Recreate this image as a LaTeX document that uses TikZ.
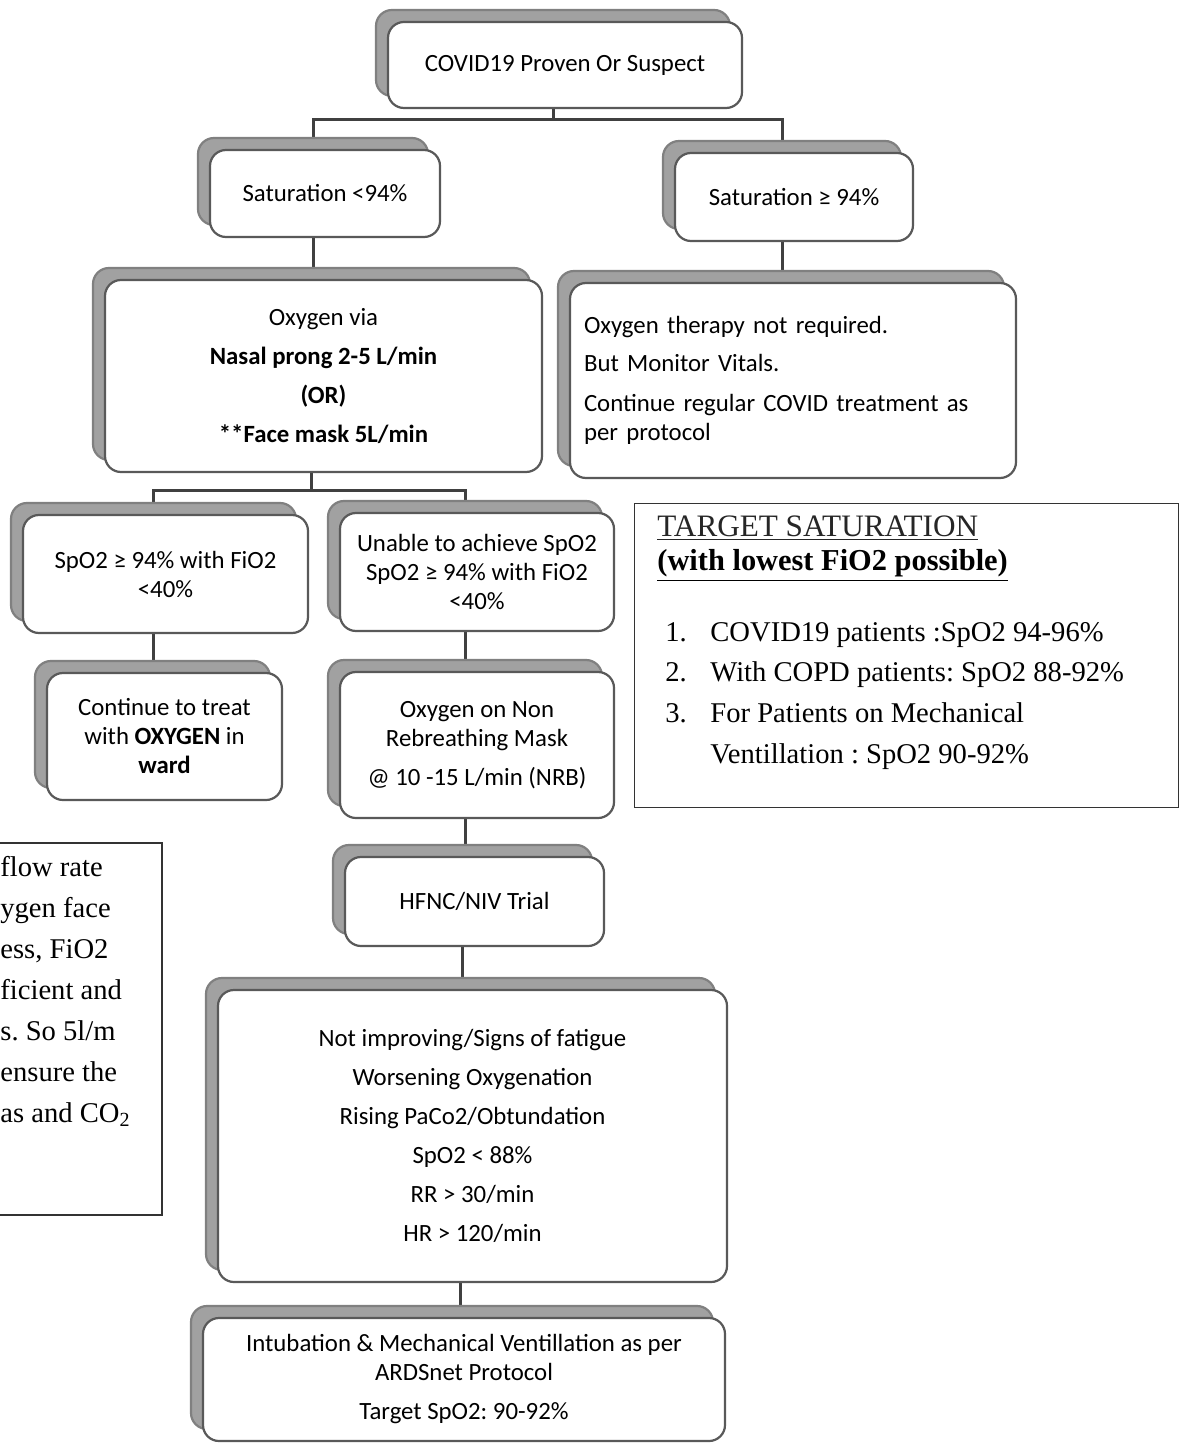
\documentclass[tikz,border=0pt]{standalone}
\usepackage{fontspec}
\setmainfont{Carlito}
\newfontfamily\timesfont{Liberation Serif}
\usetikzlibrary{shadows,backgrounds}
\frenchspacing

\begin{document}
\begin{tikzpicture}[x=0.5pt,y=-0.5pt]
\tikzstyle{every node}+=[inner sep=0pt,font=\fontsize{12.4}{14.5}\selectfont]
\tikzstyle{flowbox}=[rectangle,rounded corners=8pt,draw=black!65,line width=1.1pt,fill=white,align=center,
  general shadow={fill=black!37,draw=black!50,shadow xshift=-6pt,shadow yshift=6pt}]
\tikzstyle{link}=[draw=black!75,line width=1.5pt]
\tikzstyle{plainbox}=[draw=black!80,line width=0.6pt]
\path[use as bounding box] (0,0) rectangle (1184,1443);
\node[flowbox,minimum width=177pt,minimum height=43pt] (top) at (565,65) {COVID19 Proven Or Suspect};
\node[flowbox,minimum width=115pt,minimum height=43.5pt] (satlo) at (325,193.5) {Saturation <94\%};
\node[flowbox,minimum width=119pt,minimum height=44pt] (sathi) at (794,197) {Saturation ≥ 94\%};
\node[flowbox,minimum width=218.5pt,minimum height=96pt] (oxvia) at (323.5,376) {Oxygen via\\[5pt] \textbf{Nasal prong 2-5 L/min}\\[5pt] \textbf{(OR)}\\[5pt] \textbf{**Face mask 5L/min}};
\node[flowbox,minimum width=223pt,minimum height=97.5pt,text width=209pt,align=left] (noox) at (793,380.5) {Oxygen therapy not required.\\[4.5pt] But Monitor Vitals.\\[5.5pt] Continue regular COVID treatment as\\per protocol};
\node[flowbox,minimum width=142.5pt,minimum height=59pt] (spok) at (165.5,574) {SpO2 ≥ 94\% with FiO2\\<40\%};
\node[flowbox,minimum width=137pt,minimum height=59pt] (unable) at (477,572) {Unable to achieve SpO2\\SpO2 ≥ 94\% with FiO2\\<40\%};
\node[flowbox,minimum width=117.5pt,minimum height=63.5pt] (ward) at (164.5,736.5) {Continue to treat\\with \textbf{OXYGEN} in\\\textbf{ward}};
\node[flowbox,minimum width=137pt,minimum height=73pt] (nrb) at (477,745) {Oxygen on Non\\Rebreathing Mask\\[5pt] @ 10 -15 L/min (NRB)};
\node[flowbox,minimum width=129.5pt,minimum height=44.5pt] (hfnc) at (474.5,901.5) {HFNC/NIV Trial};
\node[flowbox,minimum width=254.5pt,minimum height=146pt] (worse) at (472.5,1136) {Not improving/Signs of fatigue\\[5pt] Worsening Oxygenation\\[5pt] Rising PaCo2/Obtundation\\[5pt] SpO2 < 88\%\\[5pt] RR > 30/min\\[5pt] HR > 120/min};
\node[flowbox,minimum width=261pt,minimum height=61.5pt] (intub) at (464,1379.5) {Intubation \& Mechanical Ventillation as per\\ARDSnet Protocol\\[5pt] Target SpO2: 90-92\%};
% target saturation
\node[plainbox,minimum width=272pt,minimum height=152pt,anchor=north west] (target) at (634,503) {};
\node[anchor=north west,align=left,font=\timesfont\fontsize{14.3}{20.3}\selectfont] (targettext) at (657,515)
  {{\fontsize{15.6}{18}\selectfont\color{black!85}\underline{TARGET SATURATION}}\\[-3pt]
   {\fontsize{15.2}{18}\selectfont\textbf{\underline{(with lowest FiO2 possible)}}}\\[15pt]
   \hspace*{4pt}\makebox[22.5pt][l]{1.}COVID19 patients :SpO2 94-96\%\\
   \hspace*{4pt}\makebox[22.5pt][l]{2.}With COPD patients: SpO2 88-92\%\\
   \hspace*{4pt}\makebox[22.5pt][l]{3.}For Patients on Mechanical\\
   \hspace*{26.5pt}Ventillation : SpO2 90-92\%};
% note on the left
\draw[plainbox] (-10,843) rectangle (162,1215);
\node[anchor=north west,align=left,font=\timesfont\fontsize{14.3}{20.5}\selectfont] (note) at (0,856)
  {flow rate\\ygen face\\ess, FiO2\\ficient and\\s. So 5l/m\\ensure the\\as and CO\textsubscript{2}};
% connectors
\coordinate (fk1) at ([xshift=-6pt,yshift=-5pt]top.south);
\coordinate (fk2) at ([xshift=-6pt,yshift=-8.5pt]oxvia.south);
\begin{scope}[on background layer]
\fill[white] (0,0) rectangle (1184,1443);
\draw[link] ([xshift=-6pt]top.south) -- (fk1);
\draw[link] ([xshift=-6pt]satlo.north) |- (fk1) -| ([xshift=-6pt]sathi.north);
\draw[link] ([xshift=-6pt]oxvia.south) -- (fk2);
\draw[link] ([xshift=-6pt]spok.north) |- (fk2) -| ([xshift=-6pt]unable.north);
\draw[link] ([xshift=-6pt]satlo.south) -- ([xshift=-6pt]satlo.south |- oxvia.north);
\draw[link] ([xshift=-6pt]sathi.south) -- ([xshift=-6pt]sathi.south |- noox.north);
\draw[link] ([xshift=-6pt]spok.south) -- ([xshift=-6pt]spok.south |- ward.north);
\draw[link] ([xshift=-6pt]unable.south) -- ([xshift=-6pt]unable.south |- nrb.north);
\draw[link] ([xshift=-6pt]nrb.south) -- ([xshift=-6pt]nrb.south |- hfnc.north);
\draw[link] ([xshift=-6pt]hfnc.south) -- ([xshift=-6pt]hfnc.south |- worse.north);
\draw[link] ([xshift=-6pt]worse.south) -- ([xshift=-6pt]worse.south |- intub.north);
\end{scope}
\end{tikzpicture}
\end{document}
